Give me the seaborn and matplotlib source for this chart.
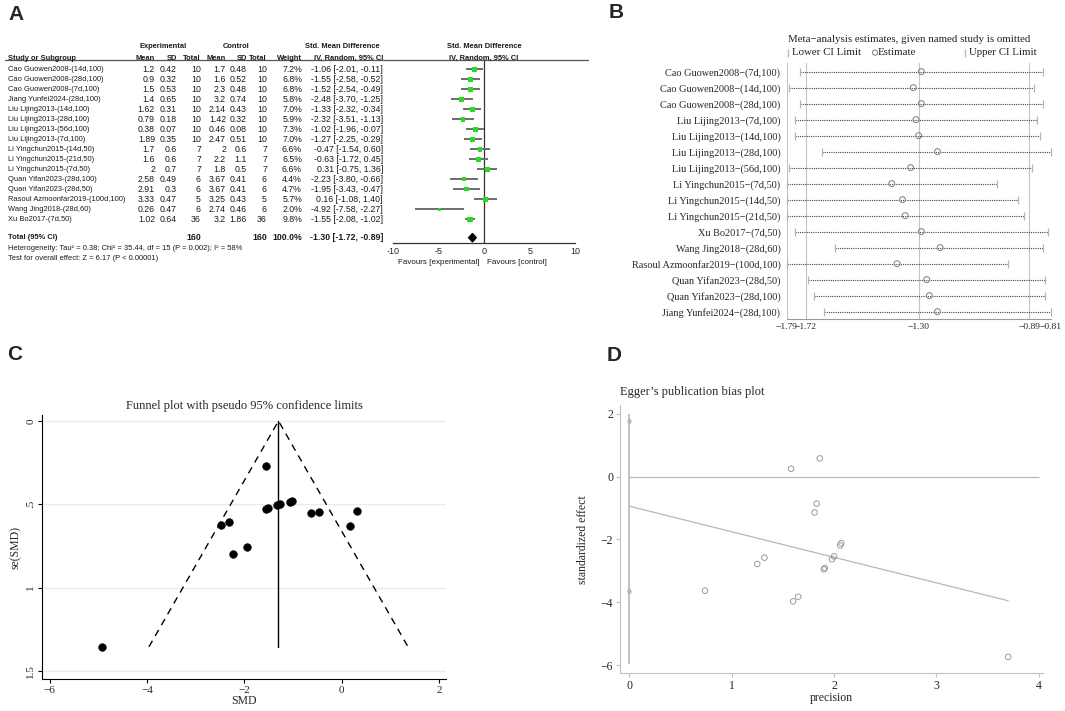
import matplotlib
matplotlib.use("Agg")
import matplotlib.pyplot as plt
import matplotlib.transforms as mtransforms
import seaborn as sns
import pandas as pd

# ============================================================
# DATA
# ============================================================

studies = [
    "Cao Guowen2008-(14d,100)", "Cao Guowen2008-(28d,100)", "Cao Guowen2008-(7d,100)",
    "Jiang Yunfei2024-(28d,100)", "Liu Lijing2013-(14d,100)", "Liu Lijing2013-(28d,100)",
    "Liu Lijing2013-(56d,100)", "Liu Lijing2013-(7d,100)", "Li Yingchun2015-(14d,50)",
    "Li Yingchun2015-(21d,50)", "Li Yingchun2015-(7d,50)", "Quan Yifan2023-(28d,100)",
    "Quan Yifan2023-(28d,50)", "Rasoul Azmoonfar2019-(100d,100)", "Wang Jing2018-(28d,60)",
    "Xu Bo2017-(7d,50)",
]
exp_mean = [1.2, 0.9, 1.5, 1.4, 1.62, 0.79, 0.38, 1.89, 1.7, 1.6, 2, 2.58, 2.91, 3.33, 0.26, 1.02]
exp_sd = [0.42, 0.32, 0.53, 0.65, 0.31, 0.18, 0.07, 0.35, 0.6, 0.6, 0.7, 0.49, 0.3, 0.47, 0.47, 0.64]
exp_n = [10, 10, 10, 10, 10, 10, 10, 10, 7, 7, 7, 6, 6, 5, 6, 36]
ctl_mean = [1.7, 1.6, 2.3, 3.2, 2.14, 1.42, 0.46, 2.47, 2, 2.2, 1.8, 3.67, 3.67, 3.25, 2.74, 3.2]
ctl_sd = [0.48, 0.52, 0.48, 0.74, 0.43, 0.32, 0.08, 0.51, 0.6, 1.1, 0.5, 0.41, 0.41, 0.43, 0.46, 1.86]
ctl_n = [10, 10, 10, 10, 10, 10, 10, 10, 7, 7, 7, 6, 6, 5, 6, 36]
weight = [7.2, 6.8, 6.8, 5.8, 7.0, 5.9, 7.3, 7.0, 6.6, 6.5, 6.6, 4.4, 4.7, 5.7, 2.0, 9.8]
smd = [-1.06, -1.55, -1.52, -2.48, -1.33, -2.32, -1.02, -1.27, -0.47, -0.63, 0.31, -2.23, -1.95, 0.16, -4.92, -1.55]
ci_lo = [-2.01, -2.58, -2.54, -3.70, -2.32, -3.51, -1.96, -2.25, -1.54, -1.72, -0.75, -3.80, -3.43, -1.08, -7.58, -2.08]
ci_hi = [-0.11, -0.52, -0.49, -1.25, -0.34, -1.13, -0.07, -0.29, 0.60, 0.45, 1.36, -0.66, -0.47, 1.40, -2.27, -1.02]

total_smd, total_lo, total_hi = -1.30, -1.72, -0.89
total_exp_n, total_ctl_n = 160, 160

# leave-one-out (B)
loo_labels = [
    "Cao Guowen2008\u2212(7d,100)", "Cao Guowen2008\u2212(14d,100)", "Cao Guowen2008\u2212(28d,100)",
    "Liu Lijing2013\u2212(7d,100)", "Liu Lijing2013\u2212(14d,100)", "Liu Lijing2013\u2212(28d,100)",
    "Liu Lijing2013\u2212(56d,100)", "Li Yingchun2015\u2212(7d,50)", "Li Yingchun2015\u2212(14d,50)",
    "Li Yingchun2015\u2212(21d,50)", "Xu Bo2017\u2212(7d,50)", "Wang Jing2018\u2212(28d,60)",
    "Rasoul Azmoonfar2019\u2212(100d,100)", "Quan Yifan2023\u2212(28d,50)", "Quan Yifan2023\u2212(28d,100)",
    "Jiang Yunfei2024\u2212(28d,100)",
]
loo_est = [-1.29, -1.32, -1.29, -1.31, -1.30, -1.23, -1.33, -1.40, -1.36, -1.35, -1.29, -1.22, -1.38, -1.27, -1.26, -1.23]
loo_lo = [-1.74, -1.78, -1.74, -1.76, -1.76, -1.66, -1.78, -1.79, -1.79, -1.79, -1.76, -1.61, -1.79, -1.71, -1.69, -1.65]
loo_hi = [-0.84, -0.87, -0.84, -0.86, -0.85, -0.81, -0.88, -1.01, -0.93, -0.91, -0.82, -0.84, -0.97, -0.83, -0.83, -0.81]
loo_ticks = [-1.79, -1.72, -1.30, -0.89, -0.81]
loo_ref_lines = [-1.79, -1.72, -1.30, -0.89]

# funnel (C)
funnel_se = [0.485, 0.526, 0.523, 0.625, 0.505, 0.607, 0.482, 0.500, 0.546, 0.554, 0.538, 0.801, 0.755, 0.633, 1.355, 0.270]
funnel_se_max = 1.355
funnel_left, funnel_right = -3.96, 1.36

# Egger (D)
egger_prec = [2.06, 1.90, 1.91, 1.60, 1.98, 1.65, 2.07, 2.00, 1.83, 1.81, 1.86, 1.25, 1.32, 1.58, 0.74, 3.70]
egger_eff = [-2.19, -2.95, -2.91, -3.97, -2.63, -3.82, -2.12, -2.54, -0.86, -1.14, 0.58, -2.78, -2.58, 0.25, -3.63, -5.74]
egger_line_x = [0, 3.70]
egger_line_y = [-0.94, -3.95]
egger_ci = [1.78, -3.65]

# ============================================================
# FIGURE
# ============================================================

sns.set_theme(style="white")
plt.rcParams["font.family"] = ["Liberation Serif", "DejaVu Serif"]
plt.rcParams["axes.unicode_minus"] = True

W, H = 1065, 711
fig = plt.figure(figsize=(W / 100, H / 100), dpi=100)


def box(l, t, r, b):
    return [l / W, 1 - b / H, (r - l) / W, (b - t) / H]


SANS = ["Liberation Sans", "DejaVu Sans"]

for letter, x, y in [("A", 8, 20), ("B", 609, 17.5), ("C", 7, 360), ("D", 607, 361)]:
    fig.text(x / W, 1 - y / H, letter, fontsize=15, weight="bold", family=SANS, va="baseline")

# ============================================================
# A. FOREST PLOT
# ============================================================

axA = fig.add_axes(box(393.3, 60, 575.3, 243))
axA.set_xlim(-10, 10)
axA.set_ylim(17.37, -0.93)
rows = list(range(len(studies)))
total_row = 16.84

forest_df = pd.DataFrame({"smd": smd, "row": rows, "w": weight})
axA.hlines(rows, ci_lo, ci_hi, color="#6e6e6e", lw=1.4, zorder=2)
sns.scatterplot(data=forest_df, x="smd", y="row", size="w", sizes=(6, 16), marker="s",
                color="#22dd22", edgecolor="none", legend=False, ax=axA, zorder=3)
axA.fill([total_lo, total_smd, total_hi, total_smd],
         [total_row, total_row - 0.42, total_row, total_row + 0.42], color="black", zorder=3)
axA.axvline(0, color="#333333", lw=0.9, zorder=1)

for s in ["top", "right", "left"]:
    axA.spines[s].set_visible(False)
axA.spines["bottom"].set_color("#333333")
axA.spines["bottom"].set_linewidth(0.9)
axA.set_xticks([-10, -5, 0, 5, 10])
axA.set_xticklabels(["-10", "-5", "0", "5", "10"], family=SANS, fontsize=6.5)
axA.tick_params(axis="x", direction="inout", length=4, width=0.8, color="#333333", pad=1)
axA.set_yticks([])
axA.set_xlabel("")
axA.set_ylabel("")

trA = mtransforms.blended_transform_factory(fig.transFigure, axA.transData)
fs_txt = 5.4
fs_num = 6.3


def tA(px, row, s, ha="right", bold=False, fs=fs_num):
    axA.text(px / W, row, s, ha=ha, va="center", weight="bold" if bold else "normal",
             transform=trA, family=SANS, fontsize=fs, color="#1a1a1a")


hdr1, hdr2 = -2.23, -1.13
tA(163, hdr1, "Experimental", ha="center", bold=True, fs=fs_txt)
tA(236, hdr1, "Control", ha="center", bold=True, fs=fs_txt)
tA(342, hdr1, "Std. Mean Difference", ha="center", bold=True, fs=fs_txt)
tA(484, hdr1, "Std. Mean Difference", ha="center", bold=True, fs=fs_txt)
tA(8, hdr2, "Study or Subgroup", ha="left", bold=True, fs=fs_txt)
for px, s in [(155, "Mean"), (177, "SD"), (201, "Total"), (226, "Mean"), (247, "SD"),
              (267, "Total"), (302, "Weight"), (383, "IV, Random, 95% CI")]:
    tA(px, hdr2, s, bold=True, fs=fs_txt)
tA(484, hdr2, "IV, Random, 95% CI", ha="center", bold=True, fs=fs_txt)
axA.plot([5 / W, 588 / W], [-0.93, -0.93], transform=trA, color="#555555", lw=0.9, clip_on=False)

for i in rows:
    tA(8, i, studies[i], ha="left", fs=fs_txt)
    tA(155, i, f"{exp_mean[i]:g}")
    tA(177, i, f"{exp_sd[i]:g}")
    tA(201, i, f"{exp_n[i]}")
    tA(226, i, f"{ctl_mean[i]:g}")
    tA(247, i, f"{ctl_sd[i]:g}")
    tA(267, i, f"{ctl_n[i]}")
    tA(302, i, f"{weight[i]:.1f}%")
    tA(383, i, f"{smd[i]:.2f} [{ci_lo[i]:.2f}, {ci_hi[i]:.2f}]")

tA(8, total_row, "Total (95% CI)", ha="left", bold=True, fs=fs_txt)
tA(201, total_row, f"{total_exp_n}", bold=True)
tA(267, total_row, f"{total_ctl_n}", bold=True)
tA(302, total_row, "100.0%", bold=True)
tA(383, total_row, f"{total_smd:.2f} [{total_lo:.2f}, {total_hi:.2f}]", bold=True)
tA(8, 17.87, "Heterogeneity: Tau\u00b2 = 0.38; Chi\u00b2 = 35.44, df = 15 (P = 0.002); I\u00b2 = 58%",
   ha="left", fs=fs_txt)
tA(8, 18.87, "Test for overall effect: Z = 6.17 (P < 0.00001)", ha="left", fs=fs_txt)

axA.text(-0.5, 19.27, "Favours [experimental]", ha="right", va="center", family=SANS,
         fontsize=fs_txt + 0.4, color="#1a1a1a")
axA.text(0.3, 19.27, "Favours [control]", ha="left", va="center", family=SANS,
         fontsize=fs_txt + 0.4, color="#1a1a1a")

# ============================================================
# B. LEAVE-ONE-OUT
# ============================================================

axB = fig.add_axes(box(786.7, 63, 1050.6, 319))
axB.set_xlim(-1.79, -0.81)
axB.set_ylim(15.46, -0.54)
rowsB = list(range(len(loo_labels)))
for v in loo_ref_lines:
    axB.axvline(v, color="#c4c4c4", lw=0.8, zorder=1)
axB.hlines(rowsB, loo_lo, loo_hi, color="#444444", lw=0.8, linestyles=(0, (1, 1)), zorder=2)
axB.scatter(loo_lo, rowsB, marker="|", s=40, color="#b5b5b5", lw=0.9, zorder=3, clip_on=False)
axB.scatter(loo_hi, rowsB, marker="|", s=40, color="#b5b5b5", lw=0.9, zorder=3, clip_on=False)
loo_df = pd.DataFrame({"est": loo_est, "row": rowsB})
sns.scatterplot(data=loo_df, x="est", y="row", marker="o", s=18, facecolor="none",
                edgecolor="#8c8c8c", linewidth=0.8, ax=axB, zorder=4, clip_on=False)

for s in ["top", "right", "left"]:
    axB.spines[s].set_visible(False)
axB.spines["bottom"].set_color("#9a9a9a")
axB.spines["bottom"].set_linewidth(0.8)
axB.set_yticks(rowsB)
axB.set_yticklabels(loo_labels, fontsize=7.4)
axB.tick_params(axis="y", length=0, pad=4.5)
axB.set_xticks(loo_ticks)
axB.set_xticklabels([f"{v:.2f}".replace("-", "\u2212") for v in loo_ticks], fontsize=6.8)
axB.tick_params(axis="x", length=2, width=0.6, color="#9a9a9a", pad=1)
axB.set_xlabel("")
axB.set_ylabel("")

axB.text(-1.785, -2.01, "Meta\u2212analysis estimates, given named study is omitted",
         fontsize=7.8, va="center", ha="left", color="#222222")
leg_y = -1.19
axB.scatter([-1.785], [leg_y], marker="|", s=30, color="#b5b5b5", lw=0.9, clip_on=False)
axB.text(-1.772, leg_y, "Lower CI Limit", fontsize=7.8, va="center", ha="left", color="#222222")
axB.scatter([-1.462], [leg_y], marker="o", s=14, facecolor="none", edgecolor="#8c8c8c", lw=0.8, clip_on=False)
axB.text(-1.452, leg_y, "Estimate", fontsize=7.8, va="center", ha="left", color="#222222")
axB.scatter([-1.127], [leg_y], marker="|", s=30, color="#b5b5b5", lw=0.9, clip_on=False)
axB.text(-1.114, leg_y, "Upper CI Limit", fontsize=7.8, va="center", ha="left", color="#222222")

# ============================================================
# C. FUNNEL PLOT
# ============================================================

axC = fig.add_axes(box(42.3, 415, 446, 679.3))
axC.set_xlim(-6.15, 2.14)
axC.set_ylim(1.55, -0.036)
for v in [0, 0.5, 1, 1.5]:
    axC.axhline(v, color="#e4eef0", lw=1.0, zorder=0)
axC.plot([total_smd, total_smd], [0, funnel_se_max], color="black", lw=1.0)
axC.plot([funnel_left, total_smd, funnel_right], [funnel_se_max, 0, funnel_se_max],
         color="black", lw=1.0, ls=(0, (5, 4)))
funnel_df = pd.DataFrame({"smd": smd, "se": funnel_se})
sns.scatterplot(data=funnel_df, x="smd", y="se", color="black", s=32, edgecolor="black",
                linewidth=0.3, ax=axC, zorder=3)
for s in ["top", "right"]:
    axC.spines[s].set_visible(False)
for s in ["left", "bottom"]:
    axC.spines[s].set_color("black")
    axC.spines[s].set_linewidth(0.8)
axC.set_xticks([-6, -4, -2, 0, 2])
axC.set_xticklabels(["\u22126", "\u22124", "\u22122", "0", "2"], fontsize=8)
axC.set_yticks([0, 0.5, 1, 1.5])
axC.set_yticklabels(["0", ".5", "1", "1.5"], fontsize=8, rotation=90, va="center")
axC.tick_params(axis="both", length=3, width=0.8, color="black", pad=2, left=True, bottom=True)
axC.set_xlabel("SMD", fontsize=8.5, labelpad=0)
axC.set_ylabel("se(SMD)", fontsize=8.5, labelpad=3)
axC.set_title("Funnel plot with pseudo 95% confidence limits", fontsize=9, pad=4)

# ============================================================
# D. EGGER PLOT
# ============================================================

axD = fig.add_axes(box(620, 405, 1043, 673.3))
axD.set_xlim(-0.09, 4.04)
axD.set_ylim(-6.26, 2.28)
grey = "#b8b8b8"
axD.hlines(0, 0, 4, color=grey, lw=0.9)
axD.vlines(0, -5.95, 2.0, color=grey, lw=1.2)
axD.scatter([0, 0], egger_ci, marker="d", s=8, color=grey, zorder=3)
axD.plot(egger_line_x, egger_line_y, color=grey, lw=0.9)
egger_df = pd.DataFrame({"prec": egger_prec, "eff": egger_eff})
sns.scatterplot(data=egger_df, x="prec", y="eff", marker="o", s=16, facecolor="none",
                edgecolor="#9a9a9a", linewidth=0.7, ax=axD, zorder=3)
for s in ["top", "right"]:
    axD.spines[s].set_visible(False)
for s in ["left", "bottom"]:
    axD.spines[s].set_color("#c0c0c0")
    axD.spines[s].set_linewidth(0.8)
axD.set_xticks([0, 1, 2, 3, 4])
axD.set_xticklabels(["0", "1", "2", "3", "4"], fontsize=8.5)
axD.set_yticks([2, 0, -2, -4, -6])
axD.set_yticklabels(["2", "0", "\u22122", "\u22124", "\u22126"], fontsize=8.5)
axD.tick_params(axis="both", length=3, width=0.8, color="#c0c0c0", pad=2, left=True, bottom=True)
axD.set_xlabel("precision", fontsize=8.5, labelpad=0)
axD.set_ylabel("standardized effect", fontsize=8.5, labelpad=8)
axD.set_title("Egger\u2019s publication bias plot", fontsize=9, loc="left", pad=7)

fig.savefig("out.png", dpi=100)
